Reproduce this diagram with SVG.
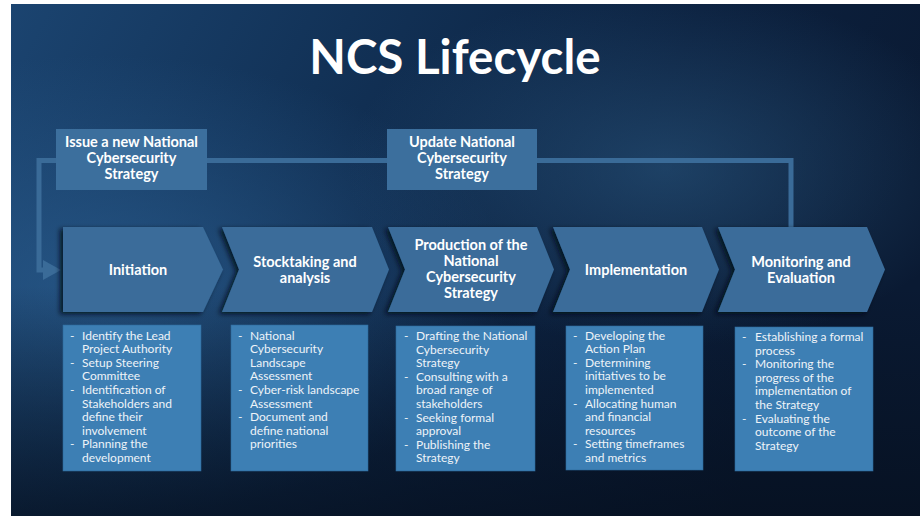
<svg xmlns="http://www.w3.org/2000/svg" width="920" height="516" viewBox="0 0 920 516">
  <defs>
    <linearGradient id="bgBase" x1="0" y1="0" x2="1" y2="0.3">
      <stop offset="0" stop-color="#1b4470"/>
      <stop offset="0.35" stop-color="#123257"/>
      <stop offset="0.7" stop-color="#0c213f"/>
      <stop offset="1" stop-color="#0a1a33"/>
    </linearGradient>
    <radialGradient id="glowLeft" cx="0.1" cy="0.55" r="0.45">
      <stop offset="0" stop-color="#2a5d8f" stop-opacity="0.75"/>
      <stop offset="1" stop-color="#2a5d8f" stop-opacity="0"/>
    </radialGradient>
    <radialGradient id="glowWave" cx="0.72" cy="0.32" r="0.35">
      <stop offset="0" stop-color="#2c5c86" stop-opacity="0.55"/>
      <stop offset="1" stop-color="#2c5c86" stop-opacity="0"/>
    </radialGradient>
    <linearGradient id="shadeBottom" x1="0" y1="0" x2="0" y2="1">
      <stop offset="0.55" stop-color="#050e1c" stop-opacity="0"/>
      <stop offset="1" stop-color="#050e1c" stop-opacity="0.7"/>
    </linearGradient>
    <filter id="drop" x="-10%" y="-10%" width="120%" height="125%">
      <feDropShadow dx="-3" dy="2" stdDeviation="2.5" flood-color="#020814" flood-opacity="0.85"/>
    </filter>
    <marker id="arrowHead" markerWidth="4" markerHeight="4" refX="1" refY="2" orient="auto" markerUnits="strokeWidth">
      <path d="M0,0 L3.6,2 L0,4 Z" fill="#3a6b98"/>
    </marker>
    <style>
      .title { font-family: Lato, "Open Sans", "Liberation Sans", sans-serif; font-weight: 700; font-size: 47.5px; fill: #ffffff; }
      .label { font-family: Lato, "Open Sans", "Liberation Sans", sans-serif; font-weight: 700; font-size: 14.5px; fill: #ffffff; text-anchor: middle; }
      .bullet { font-family: Lato, "Open Sans", "Liberation Sans", sans-serif; font-weight: 400; font-size: 12px; fill: #eef3f8; }
      .chev { fill: #3a6c9a; filter: url(#drop); }
      .tbox { fill: #3c6f9d; }
      .lbox { fill: #3d7fb4; stroke: #2e6a9c; stroke-width: 0.6; }
      .loop { fill: none; stroke: #3a6b98; stroke-width: 5; }
    </style>
  </defs>

  <!-- backdrop -->
  <rect x="11" y="4" width="909" height="512" fill="url(#bgBase)"/>
  <rect x="11" y="4" width="909" height="512" fill="url(#glowLeft)"/>
  <rect x="11" y="4" width="909" height="512" fill="url(#glowWave)"/>
  <rect x="11" y="4" width="909" height="512" fill="url(#shadeBottom)"/>

  <text class="title" x="455" y="74" text-anchor="middle">NCS Lifecycle</text>

  <!-- feedback loop -->
  <g id="connectors">
    <path class="loop" d="M791,228 V160.5 H39 V270 H48" marker-end="url(#arrowHead)"/>
  </g>

  <!-- trigger boxes -->
  <g id="issue-new">
    <rect class="tbox" x="56" y="129" width="151" height="61"/>
    <text class="label"><tspan x="131.5" y="147">Issue a new National</tspan><tspan x="131.5" y="163">Cybersecurity</tspan><tspan x="131.5" y="179">Strategy</tspan></text>
  </g>
  <g id="update">
    <rect class="tbox" x="387" y="129" width="150" height="61"/>
    <text class="label"><tspan x="462" y="147">Update National</tspan><tspan x="462" y="163">Cybersecurity</tspan><tspan x="462" y="179">Strategy</tspan></text>
  </g>

  <!-- phase chevrons -->
  <g id="initiation">
    <path class="chev" d="M63,227 H203 L223,269.5 L203,312 H63 Z"/>
    <text class="label" x="138" y="274.5">Initiation</text>
  </g>
  <g id="stocktaking">
    <path class="chev" d="M222,227 H372 L389,269.5 L372,312 H222 L239,269.5 Z"/>
    <text class="label"><tspan x="305" y="266.5">Stocktaking and</tspan><tspan x="305" y="282.5">analysis</tspan></text>
  </g>
  <g id="production">
    <path class="chev" d="M388,227 H537 L554,269.5 L537,312 H388 L405,269.5 Z"/>
    <text class="label"><tspan x="471" y="250">Production of the</tspan><tspan x="471" y="266">National</tspan><tspan x="471" y="282">Cybersecurity</tspan><tspan x="471" y="298">Strategy</tspan></text>
  </g>
  <g id="implementation">
    <path class="chev" d="M553,227 H702 L719,269.5 L702,312 H553 L570,269.5 Z"/>
    <text class="label" x="636" y="274.5">Implementation</text>
  </g>
  <g id="monitoring">
    <path class="chev" d="M718,227 H867 L885,269.5 L867,312 H718 L735,269.5 Z"/>
    <text class="label"><tspan x="801" y="266.5">Monitoring and</tspan><tspan x="801" y="282.5">Evaluation</tspan></text>
  </g>

  <!-- activity lists -->
  <g id="list-initiation">
    <rect class="lbox" x="63" y="325" width="138" height="146"/>
    <text class="bullet">
      <tspan x="70" y="339.5">-</tspan><tspan x="82" y="339.5">Identify the Lead</tspan>
      <tspan x="82" y="353.1">Project Authority</tspan>
      <tspan x="70" y="366.7">-</tspan><tspan x="82" y="366.7">Setup Steering</tspan>
      <tspan x="82" y="380.3">Committee</tspan>
      <tspan x="70" y="393.9">-</tspan><tspan x="82" y="393.9">Identification of</tspan>
      <tspan x="82" y="407.5">Stakeholders and</tspan>
      <tspan x="82" y="421.1">define their</tspan>
      <tspan x="82" y="434.7">involvement</tspan>
      <tspan x="70" y="448.3">-</tspan><tspan x="82" y="448.3">Planning the</tspan>
      <tspan x="82" y="461.9">development</tspan>
    </text>
  </g>
  <g id="list-stocktaking">
    <rect class="lbox" x="231" y="325" width="137" height="146"/>
    <text class="bullet">
      <tspan x="238" y="339.5">-</tspan><tspan x="250" y="339.5">National</tspan>
      <tspan x="250" y="353.1">Cybersecurity</tspan>
      <tspan x="250" y="366.7">Landscape</tspan>
      <tspan x="250" y="380.3">Assessment</tspan>
      <tspan x="238" y="393.9">-</tspan><tspan x="250" y="393.9">Cyber-risk landscape</tspan>
      <tspan x="250" y="407.5">Assessment</tspan>
      <tspan x="238" y="421.1">-</tspan><tspan x="250" y="421.1">Document and</tspan>
      <tspan x="250" y="434.7">define national</tspan>
      <tspan x="250" y="448.3">priorities</tspan>
    </text>
  </g>
  <g id="list-production">
    <rect class="lbox" x="396" y="326" width="139" height="145"/>
    <text class="bullet">
      <tspan x="404" y="340">-</tspan><tspan x="416" y="340">Drafting the National</tspan>
      <tspan x="416" y="353.6">Cybersecurity</tspan>
      <tspan x="416" y="367.2">Strategy</tspan>
      <tspan x="404" y="380.8">-</tspan><tspan x="416" y="380.8">Consulting with a</tspan>
      <tspan x="416" y="394.4">broad range of</tspan>
      <tspan x="416" y="408">stakeholders</tspan>
      <tspan x="404" y="421.6">-</tspan><tspan x="416" y="421.6">Seeking formal</tspan>
      <tspan x="416" y="435.2">approval</tspan>
      <tspan x="404" y="448.8">-</tspan><tspan x="416" y="448.8">Publishing the</tspan>
      <tspan x="416" y="462.4">Strategy</tspan>
    </text>
  </g>
  <g id="list-implementation">
    <rect class="lbox" x="566" y="326" width="137" height="144"/>
    <text class="bullet">
      <tspan x="573" y="339.5">-</tspan><tspan x="585" y="339.5">Developing the</tspan>
      <tspan x="585" y="353.1">Action Plan</tspan>
      <tspan x="573" y="366.7">-</tspan><tspan x="585" y="366.7">Determining</tspan>
      <tspan x="585" y="380.3">initiatives to be</tspan>
      <tspan x="585" y="393.9">implemented</tspan>
      <tspan x="573" y="407.5">-</tspan><tspan x="585" y="407.5">Allocating human</tspan>
      <tspan x="585" y="421.1">and financial</tspan>
      <tspan x="585" y="434.7">resources</tspan>
      <tspan x="573" y="448.3">-</tspan><tspan x="585" y="448.3">Setting timeframes</tspan>
      <tspan x="585" y="461.9">and metrics</tspan>
    </text>
  </g>
  <g id="list-monitoring">
    <rect class="lbox" x="735" y="327" width="138" height="144"/>
    <text class="bullet">
      <tspan x="742" y="341">-</tspan><tspan x="755" y="341">Establishing a formal</tspan>
      <tspan x="755" y="354.6">process</tspan>
      <tspan x="742" y="368.2">-</tspan><tspan x="755" y="368.2">Monitoring the</tspan>
      <tspan x="755" y="381.8">progress of the</tspan>
      <tspan x="755" y="395.4">implementation of</tspan>
      <tspan x="755" y="409">the Strategy</tspan>
      <tspan x="742" y="422.6">-</tspan><tspan x="755" y="422.6">Evaluating the</tspan>
      <tspan x="755" y="436.2">outcome of the</tspan>
      <tspan x="755" y="449.8">Strategy</tspan>
    </text>
  </g>
</svg>
